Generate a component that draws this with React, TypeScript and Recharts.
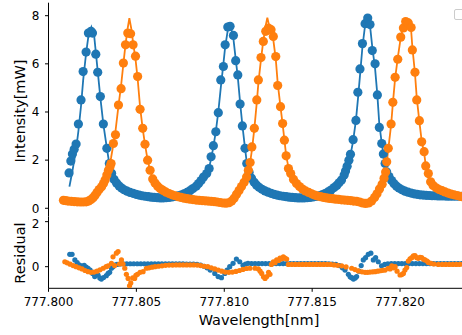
import React from "react";
import { ComposedChart, Scatter, Line, XAxis, YAxis } from "recharts";

// x values are picometres above 777.800 nm, y values in mW (top) or residual (bottom)
const WL_BASE = 777.8;
const xTicks = [0, 5, 10, 15, 20];
const intensityTicks = [0, 2, 4, 6, 8];
const residualTicks = [0, 2];

const blueMeasured: number[][] = [
  [1.17, 1.47], [1.27, 1.96], [1.36, 2.25], [1.46, 2.45], [1.57, 2.67], [1.7, 3.5], [1.85, 4.5], [1.97, 5.68],
  [2.14, 6.49], [2.27, 7.28], [2.42, 7.35], [2.5, 7.28], [2.69, 6.4], [2.8, 5.65], [2.95, 4.64], [3.12, 3.5],
  [3.32, 2.49], [3.46, 1.86], [3.59, 1.45], [3.73, 1.2], [3.87, 1.05], [4.02, 0.93], [4.16, 0.84], [4.3, 0.77],
  [4.47, 0.71], [4.64, 0.66], [4.81, 0.62], [4.98, 0.58], [5.15, 0.55], [5.32, 0.52], [5.49, 0.5], [5.67, 0.48],
  [5.84, 0.46], [6.01, 0.45], [6.18, 0.44], [6.35, 0.43], [6.52, 0.43], [6.69, 0.44], [6.86, 0.45], [7.03, 0.47],
  [7.2, 0.49], [7.37, 0.52], [7.54, 0.55], [7.71, 0.6], [7.88, 0.66], [8.05, 0.73], [8.22, 0.82], [8.4, 0.92],
  [8.54, 1.03], [8.68, 1.15], [8.82, 1.3], [9.0, 1.44], [9.14, 1.65], [9.25, 2.14], [9.38, 2.6], [9.52, 3.18],
  [9.66, 3.97], [9.8, 5.33], [9.95, 5.89], [10.05, 6.79], [10.2, 7.53], [10.33, 7.56], [10.52, 7.18], [10.65, 6.13],
  [10.77, 5.54], [10.9, 4.33], [11.03, 3.42], [11.18, 2.49], [11.28, 1.86], [11.41, 1.5], [11.55, 1.25], [11.7, 1.08],
  [11.84, 0.96], [11.98, 0.87], [12.15, 0.79], [12.32, 0.72], [12.49, 0.67], [12.66, 0.62], [12.83, 0.58], [13.0, 0.55],
  [13.17, 0.52], [13.35, 0.5], [13.52, 0.48], [13.69, 0.46], [13.86, 0.45], [14.03, 0.44], [14.2, 0.43], [14.37, 0.43],
  [14.54, 0.43], [14.71, 0.44], [14.88, 0.45], [15.05, 0.47], [15.22, 0.49], [15.39, 0.52], [15.56, 0.56], [15.73, 0.61],
  [15.9, 0.68], [16.07, 0.76], [16.25, 0.86], [16.4, 0.95], [16.53, 1.06], [16.67, 1.17], [16.82, 1.38], [16.9, 1.55],
  [16.99, 1.75], [17.09, 2.0], [17.18, 2.24], [17.33, 2.85], [17.49, 3.65], [17.6, 4.82], [17.72, 5.79], [17.86, 6.84],
  [18.01, 7.67], [18.16, 7.9], [18.29, 7.63], [18.42, 6.55], [18.58, 6.0], [18.71, 4.71], [18.82, 3.36], [18.96, 2.69],
  [19.05, 2.25], [19.15, 1.86], [19.24, 1.51], [19.37, 1.32], [19.52, 1.15], [19.66, 1.02], [19.8, 0.92], [19.94, 0.84],
  [20.11, 0.77], [20.28, 0.71], [20.45, 0.67], [20.63, 0.63], [20.8, 0.6], [20.97, 0.58], [21.14, 0.56], [21.31, 0.55],
  [21.48, 0.54], [21.65, 0.53], [21.82, 0.52], [21.99, 0.52], [22.16, 0.51], [22.33, 0.51], [22.5, 0.51], [22.67, 0.5],
  [22.84, 0.5], [23.01, 0.5], [23.18, 0.5], [23.35, 0.5], [23.53, 0.5], [23.7, 0.5], [23.87, 0.5],
];

const orangeMeasured: number[][] = [
  [0.85, 0.33], [0.97, 0.32], [1.11, 0.3], [1.29, 0.29], [1.46, 0.28], [1.63, 0.27], [1.8, 0.26], [1.97, 0.26],
  [2.14, 0.27], [2.28, 0.3], [2.42, 0.36], [2.54, 0.44], [2.65, 0.54], [2.76, 0.66], [2.88, 0.78], [3.02, 0.89],
  [3.13, 1.03], [3.22, 1.17], [3.32, 1.38], [3.41, 1.58], [3.5, 1.72], [3.56, 1.86], [3.69, 2.69], [3.81, 3.05],
  [3.98, 4.29], [4.13, 4.97], [4.26, 6.03], [4.38, 6.79], [4.51, 7.28], [4.67, 7.25], [4.81, 6.79], [4.95, 6.32],
  [5.07, 5.47], [5.21, 4.11], [5.36, 3.32], [5.49, 2.66], [5.64, 2.0], [5.78, 1.58], [5.93, 1.22], [6.06, 1.05],
  [6.21, 0.92], [6.35, 0.82], [6.52, 0.74], [6.69, 0.67], [6.86, 0.61], [7.03, 0.56], [7.2, 0.52], [7.37, 0.48],
  [7.54, 0.45], [7.71, 0.42], [7.88, 0.4], [8.05, 0.38], [8.22, 0.36], [8.4, 0.34], [8.57, 0.33], [8.74, 0.32],
  [8.91, 0.31], [9.08, 0.3], [9.25, 0.29], [9.42, 0.28], [9.59, 0.26], [9.76, 0.24], [9.93, 0.22], [10.1, 0.21],
  [10.27, 0.23], [10.42, 0.3], [10.56, 0.42], [10.7, 0.58], [10.84, 0.74], [10.98, 0.9], [11.13, 1.08], [11.27, 1.3],
  [11.37, 1.58], [11.47, 1.9], [11.57, 2.55], [11.71, 3.32], [11.85, 4.5], [11.94, 5.33], [12.09, 6.26], [12.22, 6.93],
  [12.36, 7.35], [12.51, 7.49], [12.66, 7.42], [12.79, 7.14], [12.93, 6.3], [13.04, 5.1], [13.2, 4.22], [13.32, 3.52],
  [13.42, 2.83], [13.52, 2.18], [13.65, 1.65], [13.78, 1.44], [13.94, 1.2], [14.11, 1.03], [14.28, 0.9], [14.45, 0.8],
  [14.62, 0.72], [14.8, 0.66], [14.97, 0.6], [15.14, 0.55], [15.31, 0.51], [15.48, 0.48], [15.65, 0.45], [15.82, 0.43],
  [15.99, 0.41], [16.16, 0.4], [16.33, 0.38], [16.5, 0.37], [16.67, 0.35], [16.84, 0.34], [17.01, 0.33], [17.18, 0.32],
  [17.35, 0.3], [17.53, 0.29], [17.7, 0.26], [17.87, 0.22], [18.04, 0.2], [18.21, 0.22], [18.38, 0.3], [18.55, 0.45],
  [18.69, 0.6], [18.83, 0.8], [18.98, 1.0], [19.09, 1.25], [19.18, 1.51], [19.24, 1.93], [19.33, 2.49], [19.49, 3.5],
  [19.59, 4.4], [19.72, 5.44], [19.87, 6.19], [20.04, 7.11], [20.19, 7.49], [20.32, 7.76], [20.47, 7.7], [20.63, 7.51],
  [20.7, 6.58], [20.85, 5.65], [20.95, 4.5], [21.1, 3.64], [21.23, 2.76], [21.37, 2.35], [21.46, 1.76], [21.61, 1.44],
  [21.74, 1.1], [21.88, 0.95], [22.05, 0.85], [22.22, 0.78], [22.39, 0.73], [22.56, 0.68], [22.73, 0.63], [22.9, 0.59],
  [23.07, 0.56], [23.24, 0.53], [23.41, 0.5], [23.53, 0.48], [23.7, 0.47], [23.87, 0.46],
];

const blueFit: number[][] = [
  [1.19, 0.9], [1.36, 1.55], [1.57, 2.45], [1.7, 3.2], [1.85, 4.25], [1.97, 5.3], [2.14, 6.45], [2.27, 7.15],
  [2.44, 7.52], [2.6, 7.15], [2.69, 6.5], [2.8, 5.7], [2.95, 4.6], [3.12, 3.5], [3.32, 2.5], [3.46, 1.85],
  [3.6, 1.45], [3.87, 1.05], [4.3, 0.75], [4.98, 0.57], [5.84, 0.46], [6.52, 0.43], [7.2, 0.48], [7.71, 0.59],
  [8.22, 0.8], [8.54, 1.0], [8.82, 1.25], [9.0, 1.45], [9.14, 1.7], [9.25, 2.05], [9.38, 2.55], [9.52, 3.2],
  [9.66, 4.0], [9.8, 5.0], [9.95, 6.0], [10.05, 6.7], [10.2, 7.4], [10.28, 7.58], [10.4, 7.45], [10.52, 7.05],
  [10.65, 6.2], [10.77, 5.45], [10.9, 4.4], [11.03, 3.45], [11.18, 2.5], [11.28, 1.9], [11.41, 1.5], [11.55, 1.25],
  [11.84, 0.96], [12.32, 0.72], [13.0, 0.55], [13.86, 0.45], [14.54, 0.43], [15.22, 0.49], [15.73, 0.61], [16.25, 0.86],
  [16.53, 1.06], [16.82, 1.38], [16.99, 1.75], [17.18, 2.2], [17.33, 2.8], [17.49, 3.65], [17.6, 4.5], [17.72, 5.5],
  [17.86, 6.7], [18.01, 7.6], [18.13, 7.95], [18.29, 7.6], [18.42, 6.7], [18.58, 5.8], [18.71, 4.7], [18.82, 3.5],
  [18.96, 2.7], [19.05, 2.25], [19.15, 1.86], [19.24, 1.55], [19.37, 1.32], [19.66, 1.02], [20.11, 0.77], [20.8, 0.6],
  [21.65, 0.53], [22.5, 0.51], [23.94, 0.5],
];

const orangeFit: number[][] = [
  [0.85, 0.33], [1.46, 0.28], [1.97, 0.26], [2.28, 0.3], [2.54, 0.44], [2.76, 0.66], [3.02, 0.9], [3.22, 1.2],
  [3.41, 1.6], [3.56, 2.1], [3.69, 2.65], [3.81, 3.2], [3.98, 4.25], [4.13, 5.1], [4.26, 6.0], [4.38, 6.8],
  [4.51, 7.5], [4.6, 7.9], [4.7, 7.5], [4.81, 6.9], [4.95, 6.2], [5.07, 5.4], [5.21, 4.2], [5.36, 3.3],
  [5.49, 2.65], [5.64, 2.0], [5.78, 1.58], [5.93, 1.22], [6.21, 0.92], [6.69, 0.67], [7.2, 0.52], [7.88, 0.4],
  [8.57, 0.33], [9.25, 0.29], [9.76, 0.24], [10.1, 0.21], [10.27, 0.23], [10.56, 0.42], [10.84, 0.74], [11.13, 1.08],
  [11.37, 1.55], [11.47, 1.9], [11.57, 2.4], [11.71, 3.3], [11.85, 4.4], [11.94, 5.2], [12.09, 6.2], [12.22, 6.95],
  [12.36, 7.6], [12.45, 7.92], [12.55, 7.6], [12.66, 7.3], [12.79, 7.0], [12.93, 6.2], [13.04, 5.2], [13.2, 4.2],
  [13.32, 3.5], [13.42, 2.85], [13.52, 2.2], [13.65, 1.7], [13.78, 1.4], [14.11, 1.03], [14.62, 0.72], [15.31, 0.51],
  [16.16, 0.4], [17.01, 0.33], [17.7, 0.26], [18.04, 0.2], [18.21, 0.22], [18.55, 0.45], [18.83, 0.8], [19.09, 1.25],
  [19.18, 1.5], [19.24, 1.9], [19.33, 2.45], [19.49, 3.45], [19.59, 4.35], [19.72, 5.4], [19.87, 6.25], [20.04, 7.1],
  [20.19, 7.55], [20.3, 7.85], [20.47, 7.7], [20.63, 7.4], [20.7, 6.7], [20.85, 5.6], [20.95, 4.6], [21.1, 3.6],
  [21.23, 2.8], [21.37, 2.3], [21.46, 1.8], [21.61, 1.44], [21.74, 1.12], [22.05, 0.85], [22.56, 0.68], [23.07, 0.56],
  [23.53, 0.48], [23.94, 0.46],
];

const blueResidual: number[][] = [
  [1.21, 0.55], [1.34, 0.55], [1.5, 0.3], [1.63, 0.18], [1.74, 0.08], [1.87, 0.04], [2.03, 0.06], [2.14, -0.02],
  [2.25, -0.07], [2.37, -0.15], [2.51, -0.3], [2.63, -0.44], [2.74, -0.3], [2.82, -0.37], [2.92, -0.5], [3.01, -0.55],
  [3.13, -0.48], [3.29, -0.4], [3.39, -0.3], [3.48, -0.25], [3.58, -0.07], [3.67, 0.0], [3.77, 0.07], [3.9, 0.1],
  [4.07, 0.12], [4.25, 0.13], [4.45, 0.13], [4.65, 0.13], [4.85, 0.13], [5.05, 0.13], [5.25, 0.13], [5.45, 0.13],
  [5.65, 0.13], [5.85, 0.13], [6.05, 0.13], [6.25, 0.13], [6.45, 0.13], [6.65, 0.13], [6.85, 0.13], [7.05, 0.13],
  [7.25, 0.13], [7.45, 0.13], [7.65, 0.13], [7.85, 0.12], [8.05, 0.12], [8.25, 0.11], [8.45, 0.1], [8.65, 0.07],
  [8.85, 0.02], [9.02, -0.05], [9.2, -0.15], [9.46, -0.3], [9.65, -0.44], [9.84, -0.49], [10.03, -0.3], [10.16, -0.15],
  [10.31, 0.0], [10.5, 0.15], [10.69, 0.34], [10.88, 0.22], [11.07, 0.06], [11.21, 0.12], [11.35, 0.15], [11.55, 0.14],
  [11.75, 0.14], [11.95, 0.14], [12.15, 0.14], [12.35, 0.14], [12.55, 0.14], [12.75, 0.14], [12.95, 0.14], [13.15, 0.14],
  [13.35, 0.14], [13.55, 0.14], [13.75, 0.14], [13.95, 0.14], [14.15, 0.14], [14.35, 0.14], [14.55, 0.14], [14.75, 0.14],
  [14.95, 0.14], [15.15, 0.14], [15.35, 0.14], [15.55, 0.14], [15.75, 0.14], [15.95, 0.13], [16.15, 0.12], [16.35, 0.1],
  [16.55, 0.05], [16.72, -0.05], [16.87, -0.15], [17.06, -0.34], [17.16, -0.45], [17.25, -0.49], [17.35, -0.55], [17.45, -0.5],
  [17.53, -0.44], [17.67, -0.2], [17.79, 0.05], [17.91, 0.3], [18.04, 0.4], [18.19, 0.55], [18.34, 0.6], [18.48, 0.3],
  [18.61, 0.4], [18.76, 0.22], [18.95, 0.04], [19.13, 0.1], [19.3, 0.13], [19.5, 0.14], [19.7, 0.14], [19.9, 0.14],
  [20.1, 0.14], [20.3, 0.14], [20.5, 0.14], [20.7, 0.14], [20.9, 0.14], [21.1, 0.14], [21.3, 0.14], [21.5, 0.14],
  [21.7, 0.14], [21.9, 0.14], [22.1, 0.14], [22.3, 0.14], [22.5, 0.14], [22.7, 0.14], [22.9, 0.14], [23.1, 0.14],
  [23.3, 0.14], [23.5, 0.14], [23.7, 0.14], [23.9, 0.14],
];

const orangeResidual: number[][] = [
  [0.93, 0.22], [1.06, 0.17], [1.23, 0.11], [1.4, 0.05], [1.57, 0.0], [1.74, -0.05], [1.91, -0.1], [2.08, -0.17],
  [2.25, -0.22], [2.42, -0.25], [2.59, -0.24], [2.76, -0.2], [2.93, -0.14], [3.11, -0.07], [3.28, 0.0], [3.39, 0.04],
  [3.58, 0.15], [3.67, 0.44], [3.76, 0.05], [3.86, 0.6], [3.96, 0.67], [4.04, 0.12], [4.15, 0.3], [4.24, 0.12],
  [4.34, -0.07], [4.43, -0.34], [4.53, -0.52], [4.61, -0.85], [4.68, -0.72], [4.79, -0.5], [4.9, -0.52], [4.97, -0.38],
  [5.06, -0.34], [5.21, -0.25], [5.38, -0.22], [5.57, -0.07], [5.72, -0.05], [5.89, -0.02], [6.06, 0.0], [6.26, 0.02],
  [6.46, 0.04], [6.66, 0.06], [6.86, 0.07], [7.06, 0.07], [7.26, 0.08], [7.46, 0.08], [7.66, 0.08], [7.86, 0.08],
  [8.06, 0.08], [8.26, 0.08], [8.46, 0.07], [8.66, 0.05], [8.86, 0.02], [9.06, 0.0], [9.26, -0.05], [9.46, -0.1],
  [9.66, -0.15], [9.86, -0.2], [10.06, -0.24], [10.26, -0.25], [10.46, -0.24], [10.66, -0.21], [10.86, -0.17], [11.06, -0.12],
  [11.26, -0.08], [11.46, -0.07], [11.75, -0.07], [11.94, -0.1], [12.04, -0.2], [12.13, -0.3], [12.23, -0.45], [12.32, -0.52],
  [12.42, -0.44], [12.52, -0.25], [12.6, -0.34], [12.68, 0.1], [12.79, 0.22], [12.89, 0.18], [12.98, 0.3], [13.09, 0.28],
  [13.17, 0.38], [13.27, 0.35], [13.36, 0.44], [13.45, 0.38], [13.55, 0.34], [13.65, 0.1], [13.85, 0.1], [14.05, 0.1],
  [14.25, 0.1], [14.45, 0.1], [14.65, 0.1], [14.85, 0.1], [15.05, 0.1], [15.25, 0.1], [15.45, 0.1], [15.65, 0.1],
  [15.85, 0.1], [16.05, 0.1], [16.25, 0.08], [16.45, 0.06], [16.68, 0.04], [16.93, -0.01], [17.25, -0.07], [17.44, -0.13],
  [17.63, -0.19], [17.84, -0.23], [18.01, -0.25], [18.15, -0.25], [18.29, -0.24], [18.44, -0.23], [18.58, -0.22], [18.73, -0.2],
  [18.87, -0.18], [19.01, -0.16], [19.15, -0.15], [19.33, -0.07], [19.43, -0.1], [19.53, 0.04], [19.63, -0.05], [19.72, 0.0],
  [19.83, -0.2], [20.0, -0.37], [20.1, -0.35], [20.19, -0.3], [20.28, -0.15], [20.38, -0.04], [20.47, 0.25], [20.57, 0.35],
  [20.67, 0.4], [20.76, 0.48], [20.85, 0.49], [20.95, 0.4], [21.04, 0.37], [21.14, 0.42], [21.23, 0.4], [21.34, 0.33],
  [21.42, 0.3], [21.54, 0.25], [21.61, 0.19], [21.76, 0.15], [21.93, 0.12], [22.18, 0.1], [22.4, 0.1], [22.6, 0.1],
  [22.8, 0.1], [23.0, 0.1], [23.2, 0.1], [23.4, 0.1], [23.6, 0.1], [23.8, 0.1],
];

const BLUE = "#1f77b4";
const ORANGE = "#ff7f0e";
const FONT = "'DejaVu Sans', sans-serif";
const X_DOMAIN = [0, 23.94];

const toPts = (rows: number[][]) => rows.map(([x, y]) => ({ x, y }));

const dot = (r: number, color: string) => (props: any) =>
  <circle cx={props.cx} cy={props.cy} r={r} fill={color} />;

const tickStyle = { fill: "#000", fontSize: 12, fontFamily: FONT };
const axisStroke = { stroke: "#000", strokeWidth: 1 };

const fmtWl = (v: number) => (WL_BASE + v / 1000).toFixed(3);

export default function App() {
  return (
    <div style={{ position: "absolute", left: 0, top: 0, width: 462, height: 335, background: "#fff", overflow: "hidden", fontFamily: FONT }}>
      {/* intensity panel */}
      <div style={{ position: "absolute", left: 0, top: 0 }}>
        <ComposedChart width={470} height={220} margin={{ top: 2.7, right: 0.7, bottom: 3.3, left: 0 }}>
          <XAxis type="number" dataKey="x" domain={X_DOMAIN} allowDataOverflow tick={false} tickLine={false} height={0} axisLine={axisStroke} />
          <XAxis xAxisId="top" orientation="top" type="number" dataKey="x" domain={X_DOMAIN} allowDataOverflow tick={false} tickLine={false} height={0} axisLine={axisStroke} />
          <YAxis type="number" dataKey="y" domain={[-0.35, 8.54]} allowDataOverflow ticks={intensityTicks} width={48.5}
            tickSize={3.5} tickMargin={5.5} tick={tickStyle} tickLine={axisStroke} axisLine={axisStroke} />
          <Scatter data={toPts(blueMeasured)} dataKey="y" fill={BLUE} shape={dot(4.6, BLUE)} isAnimationActive={false} />
          <Line data={toPts(blueFit)} dataKey="y" type="linear" stroke={BLUE} strokeWidth={1.8} dot={false} activeDot={false} isAnimationActive={false} />
          <Scatter data={toPts(orangeMeasured)} dataKey="y" fill={ORANGE} shape={dot(4.6, ORANGE)} isAnimationActive={false} />
          <Line data={toPts(orangeFit)} dataKey="y" type="linear" stroke={ORANGE} strokeWidth={1.8} dot={false} activeDot={false} isAnimationActive={false} />
        </ComposedChart>
      </div>

      {/* residual panel */}
      <div style={{ position: "absolute", left: 0, top: 216 }}>
        <ComposedChart width={470} height={119} margin={{ top: 0.7, right: 0.7, bottom: 0, left: 0 }}>
          <XAxis type="number" dataKey="x" domain={X_DOMAIN} allowDataOverflow ticks={xTicks} tickFormatter={fmtWl} height={46.7}
            tickSize={3.5} tickMargin={5.5} tick={tickStyle} tickLine={axisStroke} axisLine={axisStroke} />
          <XAxis xAxisId="top" orientation="top" type="number" dataKey="x" domain={X_DOMAIN} allowDataOverflow tick={false} tickLine={false} height={0} axisLine={axisStroke} />
          <YAxis type="number" dataKey="y" domain={[-0.96, 2.22]} allowDataOverflow ticks={residualTicks} width={48.5}
            tickSize={3.5} tickMargin={5.5} tick={tickStyle} tickLine={axisStroke} axisLine={axisStroke} />
          <Scatter data={toPts(blueResidual)} dataKey="y" fill={BLUE} shape={dot(2.6, BLUE)} isAnimationActive={false} />
          <Scatter data={toPts(orangeResidual)} dataKey="y" fill={ORANGE} shape={dot(2.6, ORANGE)} isAnimationActive={false} />
        </ComposedChart>
      </div>

      {/* empty legend box */}
      <div style={{ position: "absolute", left: 454, top: 9, width: 11, height: 9, border: "1px solid #cccccc", borderRadius: 2, background: "rgba(255,255,255,0.8)" }} />

      <div style={{ position: "absolute", left: 19.7, top: 110.7, transform: "translate(-50%, -50%) rotate(-90deg)", fontSize: 14.5, whiteSpace: "nowrap", lineHeight: 1 }}>
        Intensity[mW]
      </div>
      <div style={{ position: "absolute", left: 19.7, top: 253, transform: "translate(-50%, -50%) rotate(-90deg)", fontSize: 14.5, whiteSpace: "nowrap", lineHeight: 1 }}>
        Residual
      </div>
      <div style={{ position: "absolute", left: 259, top: 320, transform: "translate(-50%, -50%)", fontSize: 14.5, whiteSpace: "nowrap", lineHeight: 1 }}>
        Wavelength[nm]
      </div>
    </div>
  );
}
